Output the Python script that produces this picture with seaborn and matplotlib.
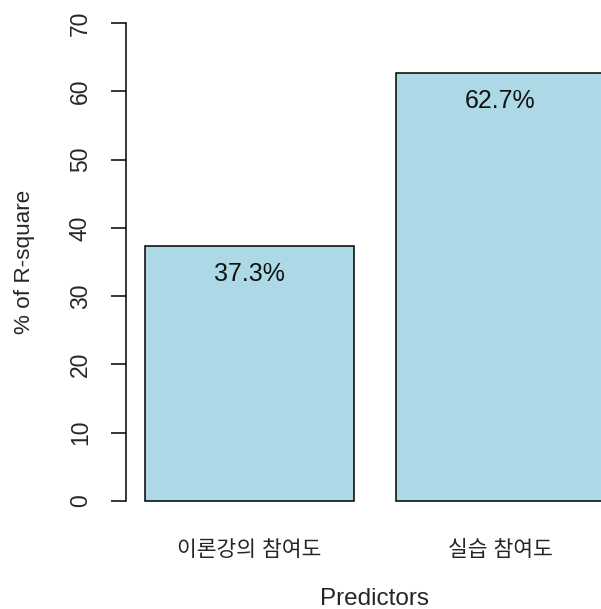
import matplotlib
matplotlib.use('Agg')
import matplotlib.pyplot as plt
import seaborn as sns
import pandas as pd

# ================= 데이터 =================
predictors = ['이론강의 참여도', '실습 참여도']
r_square_pct = [37.3, 62.7]
y_ticks = [0, 10, 20, 30, 40, 50, 60, 70]

# ================= 스타일 =================
sns.set_style('white')
plt.rcParams['font.family'] = ['Liberation Sans', 'Noto Sans CJK KR', 'DejaVu Sans']

df = pd.DataFrame({'Predictors': predictors, 'pct': r_square_pct})

fig = plt.figure(figsize=(6.01, 6.09), dpi=100)
# R barplot 느낌: 플롯 영역이 오른쪽으로 잘림
ax = fig.add_axes([126 / 601, (609 - 520) / 609, 497 / 601, 516 / 609])

sns.barplot(data=df, x='Predictors', y='pct', color='lightblue', saturation=1,
            edgecolor='black', linewidth=1.1, width=1 / 1.2, ax=ax)

for i, v in enumerate(r_square_pct):
    ax.text(i, v - 4.1, f'{v}%', ha='center', va='center', fontsize=18, color='#111111')

ax.set_xlim(-0.4925, 1.489)
ax.set_ylim(-2.8, 72.8)

for s in ['top', 'right', 'bottom']:
    ax.spines[s].set_visible(False)
ax.spines['left'].set_bounds(0, 70)
ax.spines['left'].set_color('black')
ax.spines['left'].set_linewidth(1.1)

ax.set_yticks(y_ticks)
ax.tick_params(axis='y', length=10.5, width=1.1, pad=14, labelsize=16.5,
               labelrotation=90, left=True, color='black')
for lab in ax.get_yticklabels():
    lab.set_va('center')
ax.tick_params(axis='x', length=0, pad=14.5, labelsize=15.5)

ax.set_xlabel('Predictors', fontsize=17.5, va='top')
ax.xaxis.set_label_coords(0.499, -0.131)
ax.set_ylabel('% of R-square', fontsize=16.2, va='center')
ax.yaxis.set_label_coords(-0.205, 0.5)

fig.savefig('out.png', dpi=100)
